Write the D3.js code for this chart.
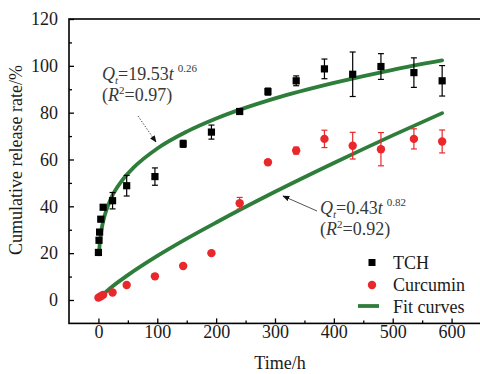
<!DOCTYPE html>
<html>
<head>
<meta charset="utf-8">
<script src="https://cdn.jsdelivr.net/npm/d3@7"></script>
<style>
  html, body { margin: 0; padding: 0; background: #fff; }
  svg { display: block; font-family: "Liberation Serif", "Times New Roman", serif; }
</style>
</head>
<body>
<div id="chart"></div>
<script>
// TCH release (black squares)
const tchTime  = [0, 1, 2, 4, 8, 24, 48, 96, 144, 192, 240, 288, 336, 384, 432, 480, 536, 584];
const tchValue = [20.3, 25.5, 29.0, 34.5, 39.6, 42.4, 48.8, 52.7, 66.7, 71.7, 80.5, 89.0, 93.6, 98.7, 96.4, 99.7, 97.1, 93.6];
const tchError = [0, 0, 0, 0, 0, 3.5, 4.4, 3.7, 1.5, 3.0, 1.0, 1.5, 2.1, 4.2, 9.5, 5.5, 6.3, 6.5];

// curcumin release (red circles)
const curTime  = [0, 4, 8, 24, 48, 96, 144, 192, 240, 288, 336, 384, 432, 480, 536, 584];
const curValue = [1.0, 1.6, 2.2, 3.2, 6.4, 10.1, 14.5, 20.0, 41.3, 58.8, 63.8, 68.8, 65.9, 64.4, 68.8, 67.7];
const curError = [0, 0, 0, 0, 0, 0, 0, 0, 2.5, 0.8, 1.5, 3.7, 5.7, 7.1, 4.3, 4.9];

// fit curves
const tchFitTime  = [1, 1.5, 2, 3, 5, 10, 20, 40, 60, 100, 150, 200, 300, 400, 500, 584];
const tchFitValue = [19.5, 21.7, 23.4, 26.0, 29.7, 35.5, 42.6, 51.0, 56.6, 64.7, 71.9, 77.5, 86.1, 92.7, 98.3, 102.3];
const curFitTime  = [1, 5, 10, 20, 50, 100, 150, 200, 300, 400, 500, 584];
const curFitValue = [0.4, 1.6, 2.8, 5.0, 10.6, 18.8, 26.2, 33.1, 46.2, 58.5, 70.3, 79.8];

const xTicks = [0, 100, 200, 300, 400, 500, 600];
const yTicks = [0, 20, 40, 60, 80, 100, 120];
const legendLabels = ["TCH", "Curcumin", "Fit curves"];

const W = 480, H = 374;
const pLeft = 69, pRight = 481, pTop = 19, pBottom = 323.4;
const green = "#2e7d3a", red = "#e8282b", ink = "#1a1a1a";

const svg = d3.select("#chart").append("svg")
  .attr("width", W).attr("height", H);

const x = d3.scaleLinear().domain([-50, 650]).range([pLeft, pRight]);
const y = d3.scaleLinear().domain([-10, 120]).range([pBottom, pTop]);

// frame
svg.append("rect")
  .attr("x", pLeft).attr("y", pTop)
  .attr("width", pRight - pLeft).attr("height", pBottom - pTop)
  .attr("fill", "none").attr("stroke", "#000").attr("stroke-width", 1.6);

// axes with inward ticks
const xMinor = d3.range(50, 650, 100);
const yMinor = d3.range(10, 120, 20);

const gx = svg.append("g").attr("transform", `translate(0,${pBottom})`);
gx.call(d3.axisBottom(x).tickValues(xMinor).tickSize(-3).tickFormat(""));
gx.select(".domain").remove();
const gx2 = svg.append("g").attr("transform", `translate(0,${pBottom})`);
gx2.call(d3.axisBottom(x).tickValues(xTicks).tickSize(-5).tickPadding(9).tickFormat(d3.format("d")));
gx2.select(".domain").remove();

const gy = svg.append("g").attr("transform", `translate(${pLeft},0)`);
gy.call(d3.axisLeft(y).tickValues(yMinor).tickSize(-3).tickFormat(""));
gy.select(".domain").remove();
const gy2 = svg.append("g").attr("transform", `translate(${pLeft},0)`);
gy2.call(d3.axisLeft(y).tickValues(yTicks).tickSize(-5).tickPadding(11).tickFormat(d3.format("d")));
gy2.select(".domain").remove();

svg.selectAll(".tick line").attr("stroke", "#000").attr("stroke-width", 1.3);
svg.selectAll(".tick text")
  .attr("font-family", "Liberation Serif, serif")
  .attr("font-size", 18).attr("fill", ink);
gx2.selectAll(".tick text").attr("dy", "0.72em").attr("y", 2);

// axis titles
svg.append("text")
  .attr("transform", "translate(22,160) rotate(-90)")
  .attr("text-anchor", "middle")
  .attr("font-size", 18).attr("fill", ink)
  .text("Cumulative release rate/%");

svg.append("text")
  .attr("x", 280).attr("y", 369)
  .attr("text-anchor", "middle")
  .attr("font-size", 18).attr("fill", ink)
  .text("Time/h");

// fit curves
const line = d3.line()
  .x(d => x(d[0])).y(d => y(d[1]))
  .curve(d3.curveMonotoneX);

const fits = [
  d3.zip(tchFitTime, tchFitValue),
  d3.zip(curFitTime, curFitValue)
];
svg.selectAll(".fit").data(fits).enter().append("path")
  .attr("class", "fit")
  .attr("d", line)
  .attr("fill", "none")
  .attr("stroke", green)
  .attr("stroke-width", 3.8)
  .attr("stroke-linecap", "round");

// error bars
function errorBars(times, values, errs, colour) {
  const rows = times.map((t, i) => ({ t: t, v: values[i], e: errs[i] })).filter(d => d.e > 0);
  const g = svg.append("g").attr("stroke", colour).attr("stroke-width", 1.2);
  g.selectAll(".v").data(rows).enter().append("line")
    .attr("x1", d => x(d.t)).attr("x2", d => x(d.t))
    .attr("y1", d => y(d.v - d.e)).attr("y2", d => y(d.v + d.e));
  g.selectAll(".capT").data(rows).enter().append("line")
    .attr("x1", d => x(d.t) - 3).attr("x2", d => x(d.t) + 3)
    .attr("y1", d => y(d.v + d.e)).attr("y2", d => y(d.v + d.e));
  g.selectAll(".capB").data(rows).enter().append("line")
    .attr("x1", d => x(d.t) - 3).attr("x2", d => x(d.t) + 3)
    .attr("y1", d => y(d.v - d.e)).attr("y2", d => y(d.v - d.e));
}
errorBars(tchTime, tchValue, tchError, "#000");
errorBars(curTime, curValue, curError, red);

// markers
const tch = d3.zip(tchTime, tchValue);
svg.selectAll(".sq").data(tch).enter().append("rect")
  .attr("x", d => x(d[0]) - 3.6).attr("y", d => y(d[1]) - 3.6)
  .attr("width", 7.2).attr("height", 7.2)
  .attr("fill", "#000");

const cur = d3.zip(curTime, curValue);
svg.selectAll(".dot").data(cur).enter().append("circle")
  .attr("cx", d => x(d[0])).attr("cy", d => y(d[1]))
  .attr("r", 4.2)
  .attr("fill", red);

// annotations
function equation(xp, yp, coef, expo, r2) {
  const t = svg.append("text").attr("x", xp).attr("y", yp)
    .attr("font-size", 18).attr("fill", "#383838");
  t.append("tspan").attr("font-style", "italic").text("Q");
  t.append("tspan").attr("font-style", "italic").attr("font-size", 11).attr("dy", 4).text("t");
  t.append("tspan").attr("dy", -4).text("=" + coef);
  t.append("tspan").attr("font-style", "italic").text("t");
  t.append("tspan").attr("font-size", 11).attr("dx", 4).attr("dy", -8).text(expo);
  const t2 = svg.append("text").attr("x", xp).attr("y", yp + 21)
    .attr("font-size", 18).attr("fill", "#383838");
  t2.append("tspan").text("(");
  t2.append("tspan").attr("font-style", "italic").text("R");
  t2.append("tspan").attr("font-size", 11).attr("dy", -7).text("2");
  t2.append("tspan").attr("dy", 7).text("=" + r2 + ")");
}
equation(102, 80, "19.53", "0.26", "0.97");
equation(320, 214, "0.43", "0.82", "0.92");

svg.append("defs").append("marker")
  .attr("id", "head").attr("viewBox", "0 0 10 10")
  .attr("refX", 9).attr("refY", 5)
  .attr("markerWidth", 7).attr("markerHeight", 7)
  .attr("orient", "auto")
  .append("path").attr("d", "M0,1 L10,5 L0,9 Z").attr("fill", "#111");

svg.append("line")
  .attr("x1", 138).attr("y1", 116).attr("x2", 156).attr("y2", 142)
  .attr("stroke", "#555").attr("stroke-width", 1)
  .attr("stroke-dasharray", "1.5,1.5")
  .attr("marker-end", "url(#head)");

svg.append("line")
  .attr("x1", 317).attr("y1", 211).attr("x2", 283).attr("y2", 196)
  .attr("stroke", "#555").attr("stroke-width", 1)
  .attr("marker-end", "url(#head)");

// legend
const lg = svg.append("g");
lg.append("rect").attr("x", 368.5).attr("y", 259).attr("width", 7).attr("height", 7).attr("fill", "#000");
lg.append("circle").attr("cx", 372).attr("cy", 285).attr("r", 4.2).attr("fill", red);
lg.append("line").attr("x1", 358).attr("x2", 379).attr("y1", 306).attr("y2", 306)
  .attr("stroke", green).attr("stroke-width", 3.8);
lg.selectAll(".lt").data(legendLabels).enter().append("text")
  .attr("x", 393).attr("y", (d, i) => 269 + i * 22)
  .attr("font-size", 18).attr("fill", ink)
  .text(d => d);
</script>
</body>
</html>
